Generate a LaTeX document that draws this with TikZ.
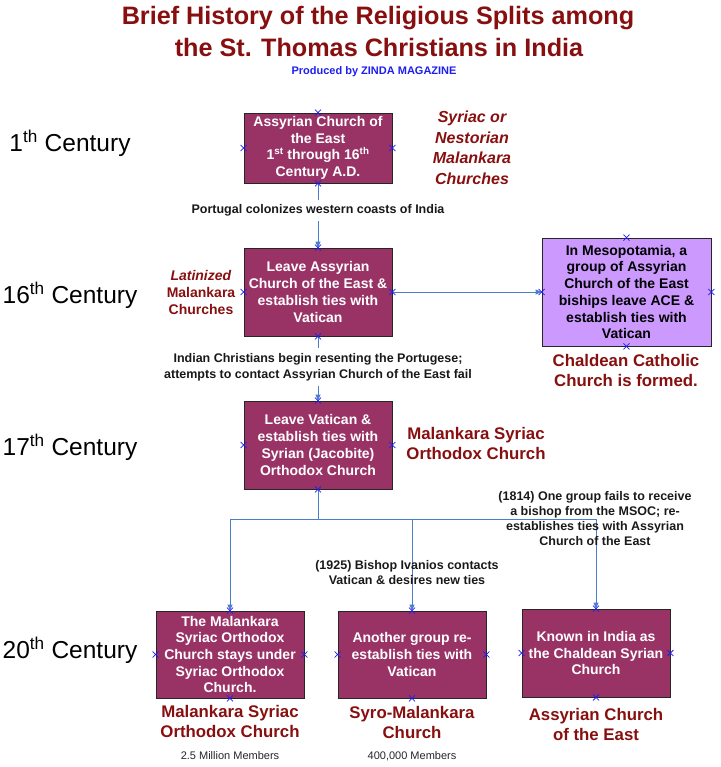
\documentclass[tikz,border=0pt]{standalone}
\usepackage{fontspec}
\setmainfont{Liberation Sans}
\usetikzlibrary{arrows.meta}
\definecolor{maroon}{RGB}{153,51,102}
\definecolor{lilac}{RGB}{204,153,255}
\definecolor{dred}{RGB}{135,15,15}
\definecolor{connblue}{RGB}{74,126,204}
\definecolor{mkblue}{RGB}{30,30,240}
\begin{document}
\begin{tikzpicture}[x=1pt,y=-1pt,
  box/.style={draw=black!85, line width=0.9pt, fill=maroon, text=white,
    font=\bfseries\fontsize{14}{16.7}\selectfont, align=center, inner sep=0pt,
    minimum width=148},
  conn/.style={draw=connblue, line width=0.9pt, -{Triangle[length=6pt,width=5pt]}},
  plain/.style={draw=connblue, line width=0.9pt},
  midlbl/.style={fill=white, font=\bfseries\fontsize{12.5}{16}\selectfont, align=center,
    inner xsep=2pt, inner ysep=5pt, text=black!90},
  lbl/.style={font=\bfseries\fontsize{12.5}{15}\selectfont, align=center, inner sep=0pt, text=black!90},
  cent/.style={font=\fontsize{24.5}{28}\selectfont, inner sep=0pt},
  red16/.style={font=\bfseries\fontsize{16.8}{20}\selectfont, text=dred, align=center, inner sep=0pt},
  members/.style={font=\fontsize{11}{13}\selectfont, text=black!85, inner sep=0pt},
  ttl/.style={font=\bfseries\fontsize{25.2}{29}\selectfont, text=dred, inner sep=0pt},
  mk/.style={draw=mkblue, line width=0.75pt}
]
\useasboundingbox (0,0) rectangle (720,767);

% title
\node[ttl] (t1) at (378,18) {Brief History of the Religious Splits among};
\node[ttl] (t2) at (379,47) {the St. Thomas Christians in India};
\node[font=\bfseries\fontsize{11}{13}\selectfont, text=mkblue, inner sep=0pt] (t3) at (374,72) {Produced by ZINDA MAGAZINE};

% century labels
\node[cent] (c1) at (70,143) {1\textsuperscript{th} Century};
\node[cent] (c16) at (70,295) {16\textsuperscript{th} Century};
\node[cent] (c17) at (70,447) {17\textsuperscript{th} Century};
\node[cent] (c20) at (70,650) {20\textsuperscript{th} Century};

% boxes
\node[box, minimum height=70] (b1) at (318,148) {Assyrian Church of\\the East\\1\textsuperscript{st} through 16\textsuperscript{th}\\Century A.D.};
\node[box, minimum height=88] (b2) at (318,292) {Leave Assyrian\\Church of the East \&\\establish ties with\\Vatican};
\node[box, minimum height=88] (b3) at (318,445) {Leave Vatican \&\\establish ties with\\Syrian (Jacobite)\\Orthodox Church};
\node[box, fill=lilac, text=black, minimum width=169, minimum height=108] (p) at (626.5,292) {In Mesopotamia, a\\group of Assyrian\\Church of the East\\biships leave ACE \&\\establish ties with\\Vatican};
\node[box, minimum height=87] (bA) at (230,654.5) {The Malankara\\Syriac Orthodox\\Church stays under\\Syriac Orthodox\\Church.};
\node[box, minimum height=87] (bB) at (412,654.5) {Another group re-\\establish ties with\\Vatican};
\node[box, minimum height=88] (bC) at (596,653) {Known in India as\\the Chaldean Syrian\\Church};

% connectors
\draw[conn] (b1.south) -- node[midlbl, pos=0.42] (lp) {Portugal colonizes western coasts of India} (b2.north);
\draw[conn] (b2.south) -- node[midlbl, pos=0.48] (li) {Indian Christians begin resenting the Portugese;\\attempts to contact Assyrian Church of the East fail} (b3.north);
\draw[conn] (b2.east) -- (p.west);
\coordinate (j) at (318,519);
\draw[plain] (b3.south) -- (j);
\draw[conn] (j) -| (bA.north);
\draw[conn] (j) -| (bC.north);
\draw[conn] (j -| bB.north) -- (bB.north);

\node[lbl] (l1814) at (595,518.5) {(1814) One group fails to receive\\a bishop from the MSOC; re-\\establishes ties with Assyrian\\Church of the East};
\node[lbl] (l1925) at (407,573) {(1925) Bishop Ivanios contacts\\Vatican \& desires new ties};

% side labels
\node[red16, font=\bfseries\itshape\fontsize{16}{20.5}\selectfont] (syr) at (472,148) {Syriac or\\Nestorian\\Malankara\\Churches};
\node[red16, font=\bfseries\fontsize{14}{17}\selectfont] (lat) at (201,292) {\textit{Latinized}\\Malankara\\Churches};
\node[red16] (msoc) at (476,443) {Malankara Syriac\\Orthodox Church};
\node[red16] (chal) at (626,370) {Chaldean Catholic\\Church is formed.};
\node[red16] (nA) at (230,721.5) {Malankara Syriac\\Orthodox Church};
\node[red16] (nB) at (412,722) {Syro-Malankara\\Church};
\node[red16] (nC) at (596,724) {Assyrian Church\\of the East};
\node[members] (mA) at (230,756) {2.5 Million Members};
\node[members] (mB) at (412,756) {400,000 Members};

% connection point markers
\foreach \n in {b1,b2,b3,p,bA,bB,bC}
  \foreach \a in {north,south,east,west}
    \draw[mk] (\n.\a) ++(-3,-3) -- ++(6,6) ++(-6,0) -- ++(6,-6);
\end{tikzpicture}
\end{document}
